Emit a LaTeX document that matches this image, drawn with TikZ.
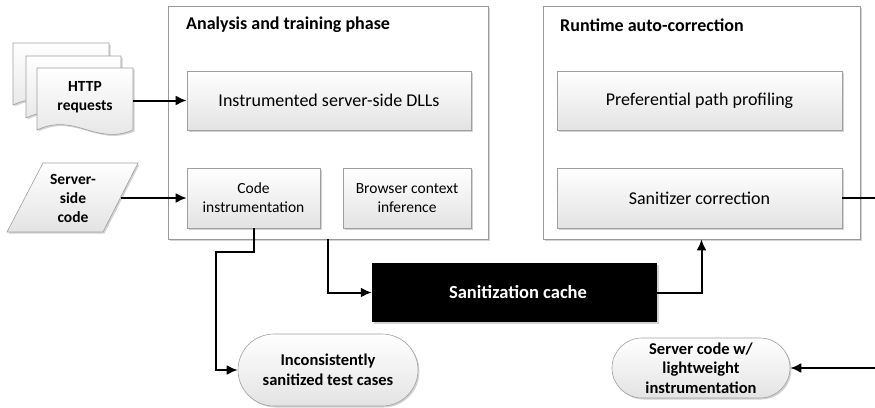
\documentclass[tikz,border=0pt]{standalone}
\usepackage{fontspec}
\setmainfont{Carlito}
\usetikzlibrary{arrows.meta,shapes.misc,shadows}

\begin{document}
\begin{tikzpicture}[x=1pt,y=-1pt,>={Latex[length=11pt,width=10pt]},
  shade/.style={top color=white,bottom color=gray!22,draw=gray!75,line width=0.6pt},
  shadowed/.style={drop shadow={shadow xshift=1.5pt,shadow yshift=-1.5pt,opacity=0.35}},
  panel/.style={draw=gray!80,fill=white,line width=0.7pt,shadowed,inner sep=0pt},
  bigbox/.style={shade,shadowed,inner sep=0pt,minimum height=59pt,font=\fontsize{18}{20}\selectfont},
  smallbox/.style={shade,shadowed,inner sep=0pt,minimum height=60pt,align=center,font=\fontsize{15.5}{19}\selectfont},
  title/.style={anchor=west,inner sep=0pt,font=\fontsize{18}{20}\selectfont\bfseries},
  terminal/.style={rounded rectangle,shade,shadowed,inner sep=0pt,align=center,font=\fontsize{16.5}{19.5}\selectfont\bfseries},
  label/.style={inner sep=0pt,align=center,font=\fontsize{15.5}{19}\selectfont\bfseries},
  docpage/.style={shade,shadowed},
  conn/.style={line width=2pt,->}]
\useasboundingbox (0,0) rectangle (875,407);

% phases
\node (phaseA) at (328,122.5) [panel,minimum width=320pt,minimum height=233pt] {};
\node (phaseB) at (701.5,122.5) [panel,minimum width=317pt,minimum height=233pt] {};
\node (titleA) at (186,25) [title] {Analysis and training phase};
\node (titleB) at (560,25) [title] {Runtime auto-correction};

% inner boxes
\node (dlls) at (329,100.5) [bigbox,minimum width=284pt] {Instrumented server-side DLLs};
\node (codeinst) at (253.5,198) [smallbox,minimum width=133pt] {Code\\instrumentation};
\node (browser) at (407,198) [smallbox,minimum width=128pt] {Browser context\\inference};
\node (profiling) at (699.5,100.5) [bigbox,minimum width=285pt] {Preferential path profiling};
\node (sanitizer) at (699.5,198) [bigbox,minimum width=285pt,minimum height=60pt] {Sanitizer correction};

% cache and outputs
\node (cache) at (514.5,292.5) [fill=black,shadowed,inner sep=0pt,minimum width=285pt,minimum height=59pt,
  text=white,font=\fontsize{18.5}{20}\selectfont\bfseries] {\hspace{7pt}Sanitization cache};
\node (incons) at (328,370) [terminal,minimum width=180pt,minimum height=72pt] {Inconsistently\\sanitized test cases};
\node (servercode) at (701,368) [terminal,minimum width=178pt,minimum height=60pt] {Server code w/\\lightweight\\instrumentation};

% inputs
\draw [docpage] (13,43) -- (109,43) -- (109,105) .. controls (71,121) and (51,87) .. (13,105) -- cycle;
\draw [docpage] (26,56) -- (121,56) -- (121,118) .. controls (83,134) and (63,100) .. (26,118) -- cycle;
\draw [docpage] (37,68) -- (133,68) -- (133,130) .. controls (95,146) and (75,112) .. (37,130) -- cycle;
\node (http) at (85,97) [label,minimum width=96pt] {HTTP\\requests};
\draw [docpage] (43,163) -- (138,163) -- (103,232) -- (7,232) -- cycle;
\node (source) at (73,198) [label,minimum width=95pt] {Server-\\side\\code};

\coordinate (bend) at (216,252);
\coordinate (outside) at (890,198);

\draw [conn] (http.east |- dlls.west) -- (dlls.west);
\draw [conn] (source.east) -- (source.east -| codeinst.west);
\draw [conn] (codeinst.south) |- (bend) |- (incons.west);
\draw [conn] (phaseA.south) |- (cache.west);
\draw [conn] (cache.east) -| (phaseB.south);
\draw [conn] (sanitizer.east) -- (outside) |- (servercode.east);
\end{tikzpicture}
\end{document}
